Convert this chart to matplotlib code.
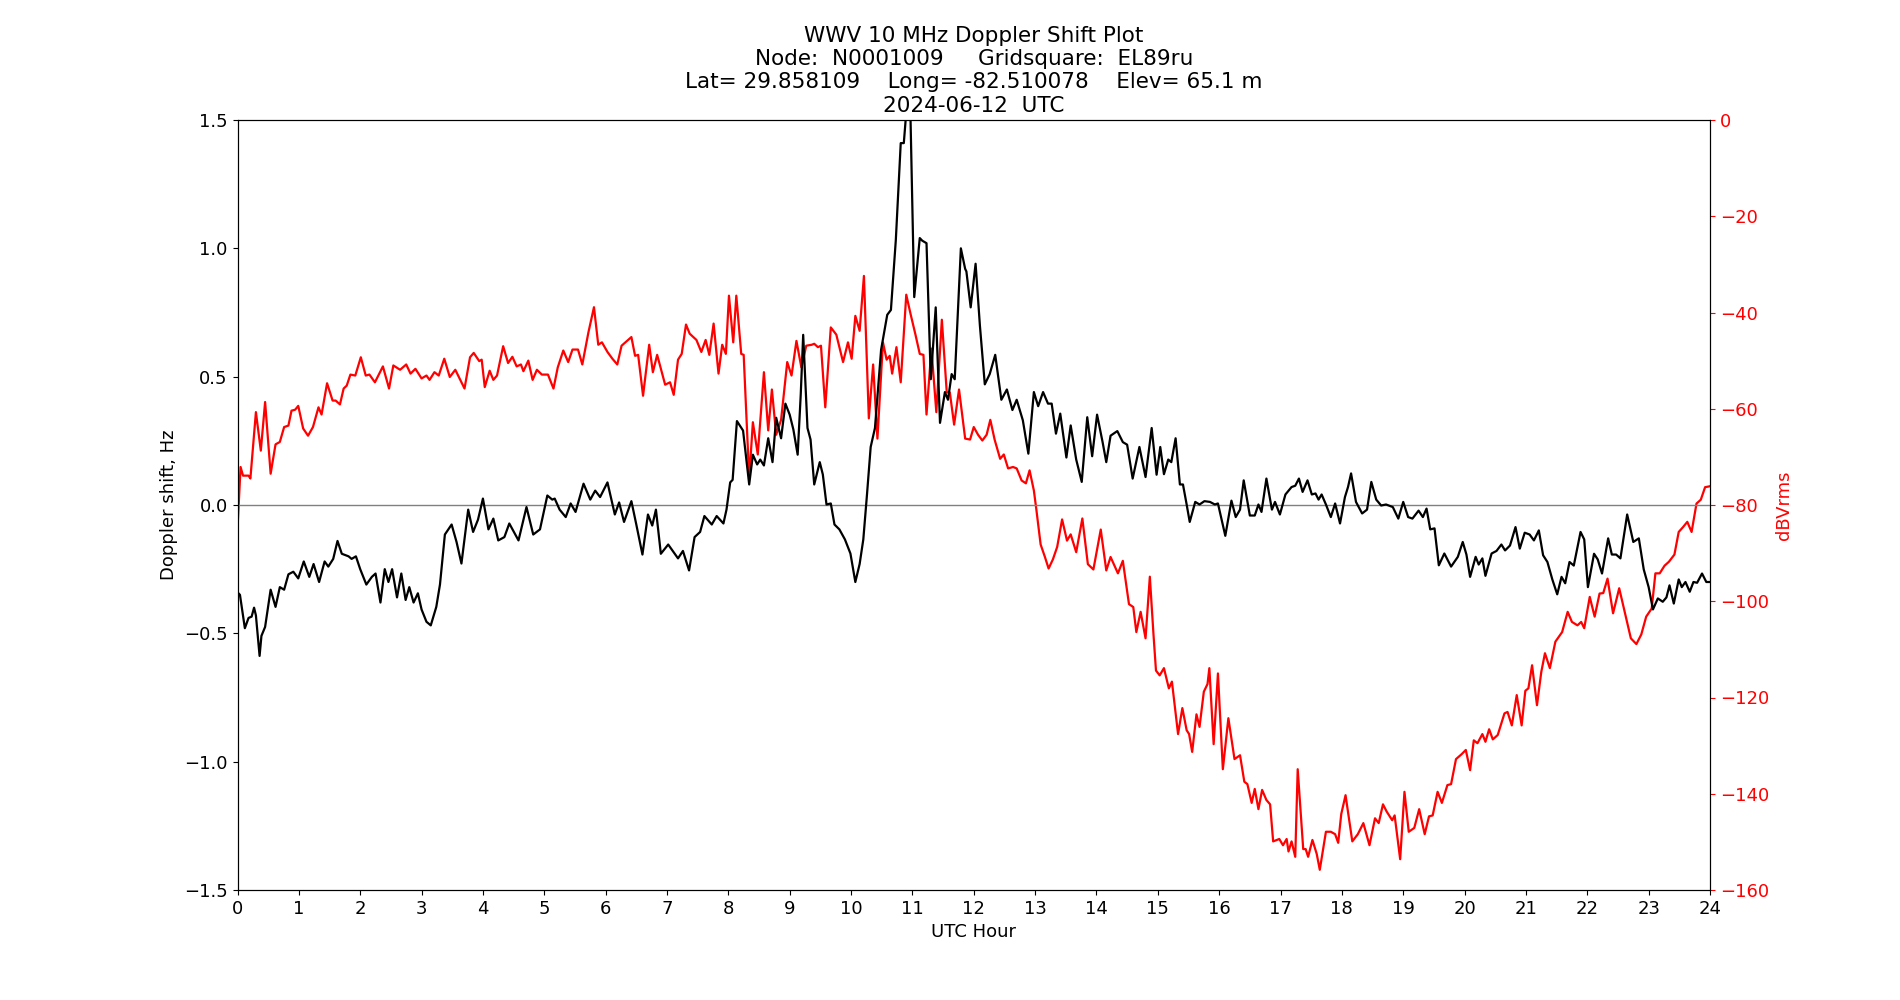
import matplotlib
matplotlib.use("Agg")
import matplotlib.pyplot as plt

# Doppler shift (Hz) vs UTC hour
dop_hours = [0.0, 0.04, 0.12, 0.18, 0.23, 0.27, 0.30, 0.36, 0.39, 0.45, 0.54, 0.62, 0.69, 0.76, 0.83, 0.91, 0.99,
             1.08, 1.17, 1.24, 1.33, 1.42, 1.48, 1.56, 1.63, 1.70, 1.81, 1.86, 1.93, 2.0, 2.10, 2.19, 2.25, 2.33,
             2.40, 2.46, 2.52, 2.60, 2.67, 2.74, 2.80, 2.87, 2.94, 3.0, 3.08, 3.15, 3.24, 3.30, 3.38, 3.49, 3.57,
             3.65, 3.76, 3.84, 3.92, 4.0, 4.09, 4.17, 4.25, 4.35, 4.43, 4.58, 4.71, 4.82, 4.93, 5.05, 5.13, 5.17,
             5.25, 5.35, 5.43, 5.51, 5.64, 5.75, 5.83, 5.91, 6.03, 6.15, 6.22, 6.30, 6.42, 6.50, 6.60, 6.69, 6.76,
             6.82, 6.90, 7.02, 7.18, 7.26, 7.36, 7.45, 7.54, 7.61, 7.73, 7.81, 7.92, 7.97, 8.03, 8.07, 8.14, 8.24,
             8.34, 8.40, 8.47, 8.52, 8.58, 8.65, 8.72, 8.78, 8.86, 8.93, 9.0, 9.06, 9.13, 9.18, 9.22, 9.29, 9.34,
             9.40, 9.49, 9.54, 9.60, 9.67, 9.73, 9.81, 9.90, 9.99, 10.07, 10.14, 10.20, 10.26, 10.32, 10.39, 10.49,
             10.59, 10.65, 10.73, 10.81, 10.86, 10.93, 10.97, 11.03, 11.12, 11.16, 11.23, 11.30, 11.38, 11.45,
             11.53, 11.58, 11.64, 11.69, 11.79, 11.86, 11.88, 11.95, 12.03, 12.10, 12.18, 12.26, 12.35, 12.45,
             12.54, 12.63, 12.70, 12.80, 12.89, 12.98, 13.05, 13.13, 13.21, 13.27, 13.34, 13.41, 13.51, 13.58,
             13.67, 13.76, 13.85, 13.93, 14.01, 14.10, 14.16, 14.23, 14.34, 14.43, 14.50, 14.59, 14.70, 14.80,
             14.90, 14.98, 15.04, 15.10, 15.17, 15.22, 15.29, 15.36, 15.41, 15.47, 15.52, 15.61, 15.68, 15.76,
             15.85, 15.93, 15.98, 16.10, 16.20, 16.27, 16.34, 16.40, 16.50, 16.58, 16.64, 16.69, 16.77, 16.86,
             16.91, 16.99, 17.08, 17.18, 17.24, 17.30, 17.36, 17.44, 17.51, 17.57, 17.62, 17.67, 17.74, 17.82,
             17.89, 17.97, 18.05, 18.10, 18.15, 18.23, 18.33, 18.41, 18.48, 18.56, 18.64, 18.72, 18.83, 18.92,
             19.0, 19.08, 19.15, 19.25, 19.32, 19.38, 19.44, 19.51, 19.58, 19.67, 19.78, 19.89, 19.97, 20.03,
             20.09, 20.18, 20.23, 20.29, 20.34, 20.44, 20.52, 20.60, 20.66, 20.74, 20.83, 20.90, 20.98, 21.06,
             21.13, 21.21, 21.28, 21.35, 21.43, 21.51, 21.58, 21.64, 21.71, 21.78, 21.89, 21.95, 22.01, 22.11,
             22.17, 22.24, 22.34, 22.40, 22.47, 22.54, 22.65, 22.75, 22.84, 22.92, 23.0, 23.07, 23.15, 23.23,
             23.29, 23.34, 23.41, 23.49, 23.54, 23.60, 23.67, 23.73, 23.79, 23.87, 23.94, 24.0]
dop_shift = [-0.34, -0.35, -0.48, -0.44, -0.435, -0.40, -0.43, -0.588, -0.51, -0.475, -0.33, -0.397, -0.32, -0.33,
             -0.27, -0.26, -0.286, -0.22, -0.28, -0.23, -0.30, -0.22, -0.24, -0.21, -0.14, -0.19, -0.20, -0.21,
             -0.20, -0.25, -0.31, -0.28, -0.267, -0.38, -0.25, -0.30, -0.25, -0.36, -0.267, -0.37, -0.32, -0.38,
             -0.344, -0.407, -0.455, -0.469, -0.397, -0.31, -0.115, -0.076, -0.144, -0.228, -0.018, -0.105,
             -0.057, 0.025, -0.095, -0.053, -0.138, -0.125, -0.072, -0.138, -0.008, -0.115, -0.095, 0.037, 0.021,
             0.025, -0.018, -0.047, 0.006, -0.027, 0.083, 0.021, 0.056, 0.031, 0.088, -0.037, 0.01, -0.066, 0.015,
             -0.076, -0.193, -0.037, -0.08, -0.018, -0.19, -0.154, -0.208, -0.179, -0.255, -0.125, -0.105, -0.043,
             -0.076, -0.043, -0.072, -0.018, 0.088, 0.098, 0.327, 0.29, 0.08, 0.196, 0.158, 0.177, 0.154, 0.26,
             0.167, 0.34, 0.26, 0.395, 0.352, 0.294, 0.196, 0.43, 0.663, 0.30, 0.255, 0.08, 0.167, 0.119, 0.002,
             0.006, -0.076, -0.095, -0.134, -0.189, -0.30, -0.23, -0.134, 0.041, 0.226, 0.30, 0.605, 0.741, 0.76,
             1.033, 1.41, 1.41, 1.62, 1.5, 0.81, 1.04, 1.03, 1.02, 0.49, 0.77, 0.32, 0.44, 0.41, 0.51, 0.49, 1.0,
             0.92, 0.91, 0.77, 0.94, 0.70, 0.47, 0.51, 0.585, 0.41, 0.45, 0.37, 0.41, 0.33, 0.20, 0.44, 0.385,
             0.44, 0.395, 0.395, 0.278, 0.356, 0.185, 0.31, 0.177, 0.09, 0.342, 0.19, 0.352, 0.245, 0.167, 0.27,
             0.288, 0.245, 0.235, 0.103, 0.226, 0.109, 0.30, 0.118, 0.226, 0.12, 0.177, 0.167, 0.26, 0.08, 0.08,
             0.002, -0.066, 0.012, 0.002, 0.015, 0.012, 0.002, 0.006, -0.12, 0.017, -0.047, -0.018, 0.096, -0.041,
             -0.041, 0.002, -0.027, 0.103, -0.018, 0.012, -0.037, 0.041, 0.07, 0.075, 0.103, 0.051, 0.096, 0.041,
             0.045, 0.021, 0.041, 0.002, -0.047, 0.006, -0.072, 0.031, 0.07, 0.123, 0.012, -0.033, -0.018, 0.09,
             0.021, -0.002, 0.002, -0.008, -0.053, 0.012, -0.047, -0.053, -0.022, -0.047, -0.014, -0.095, -0.091,
             -0.235, -0.189, -0.24, -0.202, -0.144, -0.193, -0.28, -0.202, -0.232, -0.208, -0.276, -0.189, -0.179,
             -0.154, -0.177, -0.158, -0.086, -0.17, -0.108, -0.115, -0.138, -0.099, -0.196, -0.222, -0.29, -0.348,
             -0.28, -0.305, -0.222, -0.236, -0.105, -0.134, -0.32, -0.19, -0.212, -0.267, -0.13, -0.193, -0.193,
             -0.208, -0.037, -0.144, -0.13, -0.251, -0.32, -0.407, -0.364, -0.377, -0.36, -0.313, -0.384, -0.29,
             -0.32, -0.30, -0.338, -0.30, -0.303, -0.267, -0.30, -0.30]

# Received signal level (dBVrms) vs UTC hour
pwr_hours = [0.0, 0.05, 0.09, 0.18, 0.21, 0.30, 0.38, 0.45, 0.54, 0.62, 0.69, 0.76, 0.83, 0.88, 0.94, 0.99, 1.07,
             1.15, 1.23, 1.32, 1.37, 1.46, 1.55, 1.60, 1.67, 1.73, 1.78, 1.84, 1.92, 2.01, 2.09, 2.15, 2.24, 2.37,
             2.47, 2.54, 2.65, 2.75, 2.82, 2.90, 3.0, 3.08, 3.13, 3.21, 3.28, 3.37, 3.46, 3.55, 3.70, 3.79, 3.85,
             3.94, 3.98, 4.03, 4.11, 4.17, 4.23, 4.33, 4.41, 4.48, 4.55, 4.62, 4.66, 4.74, 4.81, 4.88, 4.96, 5.06,
             5.15, 5.22, 5.31, 5.39, 5.46, 5.55, 5.62, 5.72, 5.81, 5.88, 5.94, 6.03, 6.11, 6.19, 6.26, 6.34, 6.42,
             6.48, 6.53, 6.61, 6.71, 6.77, 6.84, 6.97, 7.05, 7.11, 7.18, 7.24, 7.31, 7.37, 7.48, 7.56, 7.63, 7.69,
             7.76, 7.84, 7.90, 7.96, 8.01, 8.08, 8.13, 8.21, 8.25, 8.34, 8.40, 8.48, 8.58, 8.65, 8.71, 8.78, 8.86,
             8.96, 9.03, 9.11, 9.19, 9.27, 9.36, 9.40, 9.46, 9.51, 9.58, 9.67, 9.76, 9.87, 9.95, 10.01, 10.07,
             10.14, 10.21, 10.29, 10.36, 10.43, 10.52, 10.58, 10.63, 10.67, 10.74, 10.81, 10.90, 10.97, 11.05,
             11.12, 11.18, 11.23, 11.31, 11.39, 11.48, 11.56, 11.61, 11.68, 11.76, 11.86, 11.94, 12.0, 12.07,
             12.14, 12.21, 12.27, 12.34, 12.43, 12.49, 12.56, 12.64, 12.70, 12.78, 12.85, 12.91, 12.98, 13.02,
             13.09, 13.16, 13.22, 13.29, 13.36, 13.44, 13.52, 13.58, 13.67, 13.77, 13.86, 13.95, 14.07, 14.16,
             14.23, 14.35, 14.43, 14.53, 14.60, 14.65, 14.72, 14.80, 14.87, 14.93, 14.97, 15.03, 15.10, 15.18,
             15.23, 15.33, 15.40, 15.47, 15.51, 15.56, 15.63, 15.68, 15.75, 15.81, 15.84, 15.91, 15.98, 16.06,
             16.15, 16.25, 16.34, 16.41, 16.46, 16.53, 16.58, 16.64, 16.70, 16.77, 16.83, 16.88, 16.98, 17.04,
             17.10, 17.13, 17.18, 17.24, 17.28, 17.37, 17.41, 17.45, 17.52, 17.59, 17.64, 17.74, 17.82, 17.89,
             17.94, 17.99, 18.06, 18.17, 18.26, 18.35, 18.45, 18.54, 18.60, 18.67, 18.73, 18.82, 18.86, 18.95,
             19.02, 19.09, 19.18, 19.26, 19.35, 19.42, 19.48, 19.56, 19.63, 19.72, 19.78, 19.86, 19.95, 20.02,
             20.09, 20.15, 20.21, 20.29, 20.34, 20.40, 20.46, 20.54, 20.65, 20.70, 20.77, 20.85, 20.93, 20.99,
             21.04, 21.10, 21.18, 21.25, 21.31, 21.39, 21.48, 21.59, 21.68, 21.75, 21.84, 21.90, 21.95, 22.04,
             22.12, 22.20, 22.26, 22.33, 22.42, 22.52, 22.60, 22.71, 22.80, 22.88, 22.96, 23.05, 23.11, 23.18,
             23.26, 23.33, 23.42, 23.49, 23.56, 23.63, 23.70, 23.78, 23.85, 23.92, 24.0]
pwr_dbv = [-85.0, -72.1, -73.9, -73.9, -74.5, -60.7, -68.7, -58.6, -73.5, -67.4, -66.9, -63.8, -63.5, -60.4, -60.2,
           -59.4, -64.1, -65.6, -63.8, -59.7, -61.2, -54.7, -58.3, -58.3, -59.1, -55.8, -55.2, -52.9, -53.1, -49.3,
           -53.1, -52.9, -54.5, -51.2, -55.8, -51.0, -51.9, -50.8, -52.7, -51.7, -53.7, -53.1, -54.0, -52.4, -53.1,
           -49.6, -53.4, -51.9, -55.8, -49.3, -48.4, -50.1, -49.8, -55.5, -52.1, -54.0, -53.1, -47.0, -50.5, -49.2,
           -51.2, -50.8, -52.2, -50.0, -54.0, -51.9, -52.9, -52.9, -55.8, -51.4, -47.9, -50.3, -47.7, -47.7, -50.8,
           -44.1, -38.9, -46.7, -46.2, -48.2, -49.6, -50.8, -46.9, -46.0, -45.1, -49.0, -48.8, -57.3, -46.7, -52.4,
           -48.8, -55.0, -54.5, -57.1, -49.8, -48.6, -42.5, -44.4, -45.7, -48.2, -45.7, -48.8, -42.3, -52.7, -46.7,
           -48.6, -36.5, -46.2, -36.5, -48.6, -48.8, -74.5, -62.8, -69.5, -52.4, -64.5, -56.0, -65.4, -62.3, -50.3,
           -53.1, -45.9, -51.4, -46.9, -46.7, -46.5, -47.2, -46.9, -59.7, -43.1, -44.6, -50.3, -46.2, -49.6, -40.7,
           -43.8, -32.4, -62.0, -50.8, -66.2, -46.2, -49.8, -49.0, -52.7, -47.2, -54.5, -36.3, -40.3, -44.6, -48.6,
           -48.8, -61.2, -47.5, -60.7, -41.5, -56.6, -56.6, -63.3, -56.0, -66.2, -66.4, -63.8, -65.4, -66.6, -65.4,
           -62.3, -66.4, -70.4, -69.5, -72.4, -72.1, -72.4, -74.9, -75.5, -72.8, -77.0, -80.9, -88.2, -90.8, -93.2,
           -91.3, -88.7, -83.0, -87.4, -86.1, -89.8, -82.8, -92.3, -93.4, -85.1, -93.6, -90.8, -94.2, -91.6, -100.6,
           -101.2, -106.4, -102.2, -107.7, -94.9, -107.0, -114.4, -115.4, -113.9, -118.1, -116.7, -127.6, -122.2,
           -126.8, -127.6, -131.3, -123.5, -126.1, -118.8, -117.2, -113.9, -129.7, -115.0, -134.9, -124.3, -132.8,
           -132.0, -137.5, -138.0, -141.9, -139.0, -143.2, -139.2, -141.3, -142.2, -149.9, -149.4, -150.7, -149.4,
           -152.0, -149.9, -153.1, -134.9, -151.5, -151.5, -153.1, -149.6, -152.5, -155.8, -147.9, -147.9, -148.4,
           -150.2, -144.2, -140.3, -149.9, -148.4, -146.1, -150.7, -145.1, -146.1, -142.2, -143.7, -145.5, -144.5,
           -153.6, -139.6, -147.9, -147.1, -143.2, -148.4, -144.7, -144.5, -139.6, -141.9, -138.2, -138.0, -132.8,
           -131.8, -130.9, -135.1, -128.9, -129.5, -127.6, -129.2, -126.6, -128.7, -127.8, -123.3, -123.0, -125.8,
           -119.5, -125.8, -118.6, -118.1, -113.3, -121.6, -114.7, -110.8, -113.9, -108.4, -106.4, -102.2, -104.3,
           -105.0, -104.3, -105.6, -99.1, -103.2, -98.4, -98.3, -95.3, -102.5, -97.3, -101.7, -107.7, -108.9,
           -106.9, -103.2, -101.5, -94.2, -94.2, -92.6, -91.8, -90.3, -85.6, -84.6, -83.5, -85.6, -79.7, -78.9,
           -76.3, -76.1]

title_lines = ["WWV 10 MHz Doppler Shift Plot",
               "Node:  N0001009     Gridsquare:  EL89ru",
               "Lat= 29.858109    Long= -82.510078    Elev= 65.1 m",
               "2024-06-12  UTC"]
x_ticks = list(range(0, 25))
left_ticks = [-1.5, -1.0, -0.5, 0.0, 0.5, 1.0, 1.5]
right_ticks = [0, -20, -40, -60, -80, -100, -120, -140, -160]

fig = plt.figure(figsize=(19, 10), dpi=100)
ax = fig.add_subplot(111)
ax2 = ax.twinx()

ax.set_zorder(ax2.get_zorder() + 1)
ax.patch.set_visible(False)

ax2.plot(pwr_hours, pwr_dbv, color="red", linewidth=1.6)
ax.axhline(0, color="gray", linewidth=1)
ax.plot(dop_hours, dop_shift, color="black", linewidth=1.6)

ax.set_xlim(0, 24)
ax.set_ylim(-1.5, 1.5)
ax2.set_ylim(-160, 0)
ax.set_xticks(x_ticks)
ax.set_yticks(left_ticks)
ax2.set_yticks(right_ticks)
ax.tick_params(labelsize=13)
ax2.tick_params(axis="y", labelsize=13, colors="red")
ax2.spines["right"].set_color("black")

ax.set_xlabel("UTC Hour", fontsize=13)
ax.set_ylabel("Doppler shift, Hz", fontsize=13)
ax2.set_ylabel("dBVrms", fontsize=13, color="red")
ax.set_title("\n".join(title_lines), fontsize=15.5)

fig.savefig("out.png", dpi=100)
